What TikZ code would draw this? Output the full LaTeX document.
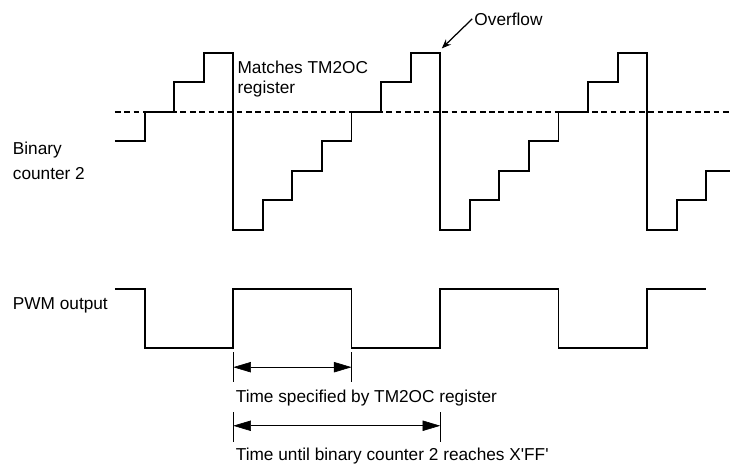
\documentclass[tikz,border=0pt]{standalone}
\usepackage{fontspec}
\setmainfont{Liberation Sans}
\usetikzlibrary{arrows.meta}
\begin{document}
\begin{tikzpicture}[
    x=1cm, y=1cm,
    lbl/.style={inner sep=0pt, anchor=base west, align=left, font=\fontsize{16.6}{19.5}\selectfont},
    wave/.style={draw, line width=1.8pt, line join=miter},
    match/.style={draw, line width=1.6pt, dash pattern=on 5.5pt off 3.5pt},
    dim/.style={draw, line width=0.6pt, {Triangle[length=17pt,width=10pt]}-{Triangle[length=17pt,width=10pt]}},
    tick/.style={draw, line width=1.3pt},
    pointer/.style={draw, line width=1.2pt, -{Stealth[length=9pt,width=7pt]}}
]
  \useasboundingbox (-3.889,-7.981) rectangle (20.832,7.778);
  % compare level
  \draw[match] (0,4) -- (20.83,4);
  % binary counter 2
  \draw[wave] (0,3) \foreach \k [evaluate=\k as \lv using {int(mod(\k+3,7))}] in {1,...,20} { -| (\k,\lv) } -- (20.8,2);
  \node[lbl, font=\fontsize{16.6}{24}\selectfont] (cnt) at (-3.46,1.72) {Binary\\counter 2};
  \node[lbl] (mat) at (4.14,4.6) {Matches TM2OC\\register};
  \node[lbl] (ovf) at (12.15,6.93) {Overflow};
  \coordinate (peak) at (11.05,6.14);
  \draw[pointer] ([xshift=-2pt]ovf.west) -- (peak);
  % pwm output
  \draw[wave] (0,-2) -| (1,-4) -| (4,-2) -| (8,-4) -| (11,-2) -| (15,-4) -| (18,-2) -- (20,-2);
  \node[lbl] (pwm) at (-3.46,-2.68) {PWM output};
  % time spans
  \foreach \x/\y in {4/-4.64, 8/-4.64, 4/-6.66, 11/-6.66} {
    \draw[tick] (\x,\y+0.5) -- (\x,\y-0.5);
  }
  \coordinate (s0) at (4,-4.64);
  \coordinate (s1) at (8,-4.64);
  \coordinate (f0) at (4,-6.62);
  \coordinate (f1) at (11,-6.62);
  \draw[dim] (s0) -- (s1);
  \draw[dim] (f0) -- (f1);
  \node[lbl] (spec) at (4.08,-5.83) {Time specified by TM2OC register};
  \node[lbl] (full) at (4.08,-7.78) {Time until binary counter 2 reaches X\textquotesingle FF\textquotesingle};
\end{tikzpicture}
\end{document}
